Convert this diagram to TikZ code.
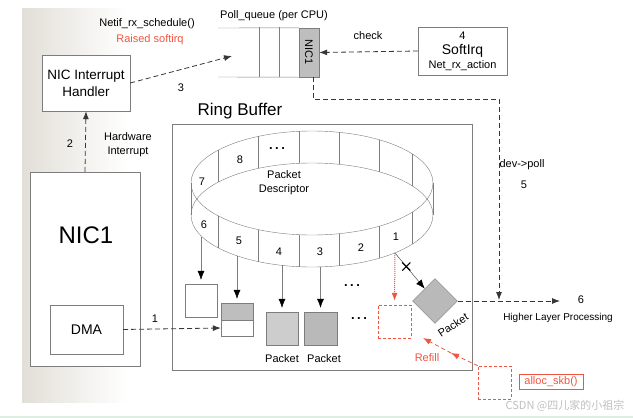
\documentclass[tikz,border=0pt]{standalone}
\usepackage{fontspec}
\setmainfont{Liberation Sans}
\newfontfamily\cjk{Noto Sans CJK SC}
\usetikzlibrary{arrows.meta,shapes.geometric,shapes.misc}
\definecolor{boxgray}{RGB}{125,125,125}
\definecolor{flowgray}{RGB}{55,55,55}
\definecolor{cellgray}{RGB}{190,190,190}
\definecolor{lightcell}{RGB}{205,205,205}
\definecolor{darkcell}{RGB}{185,185,185}
\definecolor{softred}{RGB}{240,85,65}
\definecolor{shadowgray}{RGB}{226,223,216}
\definecolor{bottomgreen}{RGB}{222,238,226}
\newcommand{\threedots}{{\fontsize{13}{13}\selectfont\bfseries .\hspace{2.5pt}.\hspace{2.5pt}.}}
\tikzset{
  box/.style={draw=boxgray, fill=white, inner sep=0pt},
  redbox/.style={draw=softred, densely dashed, inner sep=0pt, minimum width=33pt, minimum height=33pt},
  txt/.style={font=\fontsize{11}{14}\selectfont, inner sep=0pt, align=center},
  flow/.style={draw=flowgray, line width=0.8pt, dash pattern=on 5pt off 3pt,
    -{Latex[length=8pt,width=6pt]}},
  feed/.style={draw=boxgray, shorten >=4pt, -{Latex[length=9pt,width=7pt,color=black]}},
  redflow/.style={draw=softred, line width=0.8pt, dash pattern=on 4pt off 3pt,
    -{Latex[length=8pt,width=6pt]}},
}
\begin{document}
\begin{tikzpicture}[x=1pt,y=-1pt]
  \useasboundingbox (0,0) rectangle (633,418);
  \shade[left color=shadowgray, right color=white] (22,8) rectangle (128,402);
  \fill[bottomgreen] (0,416) rectangle (633,418);

  % left side
  \node[box, minimum width=88pt, minimum height=56pt, align=center,
    font=\fontsize{13.5}{17}\selectfont] (handler) at (86,83) {NIC Interrupt\\Handler};
  \node[box, minimum width=110pt, minimum height=194pt] (nic) at (85,269) {};
  \node[font=\fontsize{24}{24}\selectfont] (niclabel) at (86,235) {NIC1};
  \node[box, minimum width=73pt, minimum height=49pt,
    font=\fontsize{14}{14}\selectfont] (dma) at (86.5,329.5) {DMA};
  \node[txt] (hwint) at (128,145) {Hardware\\Interrupt};
  \node[txt] (two) at (70,144) {2};
  \node[txt] (one) at (155,319) {1};
  \node[txt] (netif) at (147,24) {Netif\_rx\_schedule()};
  \node[txt, text=softred] (raised) at (150,40) {Raised softirq};
  \node[txt] (three) at (181,88) {3};
  \coordinate (q3) at (232,56);

  % poll queue
  \node[txt] (pollq) at (274,16) {Poll\_queue (per CPU)};
  \node[box, fill=cellgray, minimum width=20pt, minimum height=49pt] (qnic) at (309,52.5) {};
  \node[txt, rotate=-90] at (qnic) {NIC1};
  \draw[boxgray] (218,28) -- (qnic.north west) (218,77) -- (qnic.south west);
  \foreach \x in {259,279}
    \draw[boxgray] (\x,27) -- (\x,77);

  % softirq
  \node[box, minimum width=89pt, minimum height=48pt] (softirq) at (462.5,51) {};
  \node[txt] at (462.5,36) {4};
  \node[txt, font=\fontsize{14}{14}\selectfont] at (462.5,51) {SoftIrq};
  \node[txt] at (462.5,66) {Net\_rx\_action};
  \node[txt] (check) at (368,36) {check};
  \node[txt] (devpoll) at (522,165) {dev->poll};
  \node[txt] (five) at (524,185) {5};

  % ring buffer
  \node[font=\fontsize{17}{17}\selectfont, inner sep=0pt] (ringtitle) at (240,111) {Ring Buffer};
  \node[box, minimum width=300pt, minimum height=246pt] (ringbox) at (322,247) {};
  \begin{scope}[draw=boxgray]
    \draw (312,183) ellipse [x radius=121, y radius=52];
    \draw (312,215) ellipse [x radius=121, y radius=52];
    \draw (191,183) -- (191,215) (433,183) -- (433,215);
    \foreach \x in {218,258,299,339,379,412} {
      \pgfmathsetmacro\h{52*sqrt(1-((\x-312)/121)^2)}
      \draw (\x,183-\h) -- (\x,215-\h);
      \draw (\x,183+\h) -- (\x,215+\h);
    }
  \end{scope}
  \node[txt] at (202,182) {7};
  \node[txt] at (240,160) {8};
  \node[txt] at (277,149) {\threedots};
  \node[txt] at (204,225) {6};
  \node[txt] at (239,241) {5};
  \node[txt] at (279,252) {4};
  \node[txt] at (320,252) {3};
  \node[txt] at (361,248) {2};
  \node[txt] at (396,237) {1};
  \node[txt] (desc) at (284,183) {Packet\\Descriptor};
  \coordinate (r6) at (201,237);
  \coordinate (r5) at (237,256);
  \coordinate (r4) at (282,265);
  \coordinate (r3) at (320.5,267);
  \coordinate (r1) at (395,253);

  % buffers
  \node[box, minimum width=32pt, minimum height=33pt] (bufa) at (201,300.5) {};
  \node[box, fill=cellgray, minimum width=32pt, minimum height=17pt] (bufbtop) at (237,311.5) {};
  \node[box, minimum width=32pt, minimum height=16pt] (bufbbot) at (237,328) {};
  \node[box, fill=lightcell, minimum width=32pt, minimum height=33pt] (pkta) at (282,328.5) {};
  \node[box, fill=darkcell, minimum width=33pt, minimum height=33pt] (pktb) at (320.5,328.5) {};
  \node[txt] at (282,359) {Packet};
  \node[txt] at (324,359) {Packet};
  \node[txt] at (352,286) {\threedots};
  \node[txt] at (359,319) {\threedots};
  \node[redbox] (refbox) at (394.5,321.5) {};
  \node[diamond, draw=boxgray, fill=darkcell, minimum width=45pt, minimum height=45pt,
    aspect=1, inner sep=0pt] (pk) at (435,301) {};
  \node[txt, rotate=33] at (453,325) {Packet};

  % higher layer
  \coordinate (hl) at (560,301);
  \coordinate (pollend) at (499,300);
  \node[txt] (six) at (581,300) {6};
  \node[txt, font=\fontsize{10}{12}\selectfont] (higher) at (558,318) {Higher Layer Processing};

  % refill
  \node[redbox] (allocbuf) at (494.5,382.5) {};
  \node[draw=softred, text=softred, txt, minimum width=64pt, minimum height=15pt] (alloclbl) at (551,381.5) {alloc\_skb()};
  \node[txt, text=softred] (refill) at (427,358) {Refill};
  \coordinate (refillmid) at (451,353);
  \coordinate (refillend) at (423,338);
  \node[font=\cjk\fontsize{11}{11}\selectfont, text=gray!50, inner sep=0pt] (mark) at (565,406) {CSDN @四儿家的小祖宗};

  \begin{scope}[flow]
    \draw (dma.east) -- (bufbbot.west);
    \draw (nic.north) -- (handler.south);
    \draw (handler.east) -- (q3);
    \draw (softirq.west) -- (qnic.east);
    \draw ([xshift=4pt]qnic.south) -- ++(0,22) -| (pollend);
    \draw (pk.east) -- (hl);
  \end{scope}
  \draw[feed] (r6) -- (bufa.north);
  \draw[feed] (r5) -- (bufbtop.north);
  \draw[feed] (r4) -- (pkta.north);
  \draw[feed] (r3) -- (pktb.north);
  \draw[draw=flowgray, -{Latex[length=9pt,width=7pt,color=black]}] (r1) -- node[pos=0.38, cross out, draw=black, line width=1.1pt, minimum size=7pt, inner sep=0pt] {} (pk);
  \draw[draw=softred, densely dotted, line width=1pt, shorten >=4pt, -{Latex[length=8pt,width=6pt]}] (r1) -- (refbox.north);
  \draw[redflow] (allocbuf.north west) -- (refillmid);
  \draw[redflow] (refillmid) -- (refillend);
\end{tikzpicture}
\end{document}
